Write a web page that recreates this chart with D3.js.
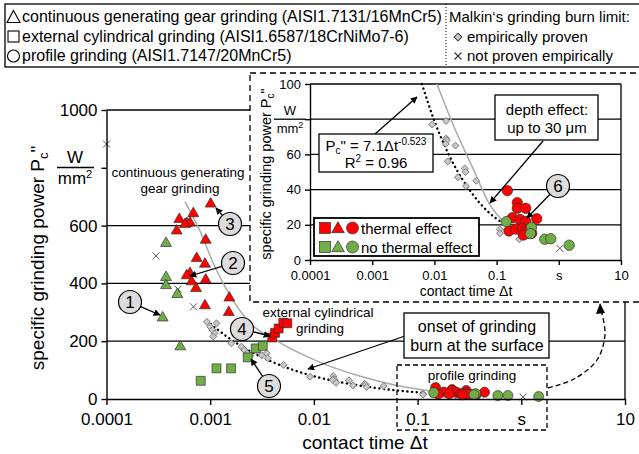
<!DOCTYPE html>
<meta charset="utf-8">
<style>
body { margin: 0; background: #fff; }
svg { font-family: "Liberation Sans", Arial, sans-serif; }
.axis path, .axis line { stroke: #000; stroke-width: 1.4px; }
.axis text { fill: #000; }
</style>
<body>
<div id="chart"></div>
<script src="https://d3js.org/d3.v7.min.js"></script>
<script>
// tick values and labels
const xTicks = [1e-4, 1e-3, 1e-2, 1e-1, 1, 10];
const xLabels = ["0.0001", "0.001", "0.01", "0.1", "s", "10"];
const mainYTicks = [0, 200, 400, 600, 800, 1000];
const mainYLabels = ["0", "200", "400", "600", "", "1000"];
const insetYTicks = [0, 20, 40, 60, 80, 100];
const insetYLabels = ["0", "20", "40", "60", "", "100"];

// continuous generating gear grinding (triangles)
const redTriT = [0.00101, 0.000687, 0.000504, 0.000593, 0.000638, 0.000571, 0.000475, 0.000905, 0.000741, 0.00089, 0.000638, 0.000593, 0.000663, 0.00073, 0.000905, 0.00153, 0.00151, 0.00089];
const redTriP = [675, 642, 622, 608, 610, 604, 582, 550, 487, 467, 435, 427, 406, 383, 412, 350, 300, 323];
const greenTriT = [0.000375, 0.000375, 0.000375, 0.000482, 0.000348, 0.000515];
const greenTriP = [539, 421, 393, 362, 281, 181];

// external cylindrical grinding (squares)
const redSqT = [0.00397, 0.00422, 0.00457, 0.00507, 0.00554];
const redSqP = [213, 229, 244, 264, 262];
const greenSqT = [0.00275, 0.00321, 0.0023, 0.00115, 0.00159, 0.00081];
const greenSqP = [175, 184, 144, 106, 106, 63];

// profile grinding (circles)
const redCircT = [0.149, 0.215, 0.215, 0.294, 0.179, 0.238, 0.294, 0.442, 0.158, 0.202, 0.26, 0.294, 0.33, 0.31, 0.27, 0.367];
const redCircP = [39.4, 32.6, 29.4, 29.4, 24, 23, 22, 23.5, 16.5, 17.6, 18, 17, 15.2, 15.7, 14.2, 15.2];
const greenCircT = [0.143, 0.363, 0.35, 0.594, 0.743, 1.47];
const greenCircP = [21.8, 18.5, 15, 11.8, 12.1, 8.4];

// Malkin's limit: empirically proven (diamonds) / not proven (x)
const diaT = [0.00093, 0.001, 0.00105, 0.0011, 0.00107, 0.00115, 0.0016, 0.002, 0.00213, 0.00228, 0.00243, 0.0028, 0.00315, 0.0035, 0.0036, 0.0051, 0.0092, 0.0154, 0.0154, 0.0158, 0.0152, 0.0218, 0.0164, 0.0308, 0.0316, 0.0238, 0.047, 0.0322, 0.113, 0.113, 0.232];
const diaP = [267, 250, 239, 227, 216, 262, 193, 181, 170, 158, 149, 170, 152, 158, 141, 118, 77, 79, 69, 68, 66, 65, 56, 52, 50, 47, 45, 42, 17.5, 15.2, 11.8];
const crossT = [0.0001, 0.0003, 0.00049, 0.00069, 1.04];
const crossP = [882, 495, 380, 319, 6.6];

// fitted curve Pc" = 7.1 dt^-0.523 (dotted)
const fitMainT = [0.00093, 0.0015, 0.0025, 0.004, 0.0065, 0.01, 0.02, 0.04, 0.07, 0.12];
const fitMainP = [270, 212, 163, 128, 99, 79, 55, 38, 28, 21];
const fitInsetT = [0.0063, 0.01, 0.02, 0.04, 0.07, 0.13];
const fitInsetP = [100, 79, 55, 38, 28, 20.6];

// grey limit curve
const limMainT = [0.00057, 0.0008, 0.0011, 0.0016, 0.0024, 0.0047, 0.0106, 0.026, 0.063, 0.12, 0.24];
const limMainP = [683, 580, 460, 350, 265, 195, 132, 82, 47, 30, 14];
const limInsetT = [0.011, 0.0205, 0.043, 0.075, 0.168, 0.23];
const limInsetP = [100, 76, 51, 32.4, 18, 14];

const RED = "#ff0000", GREEN = "#70ad47";

const svg = d3.select("#chart").append("svg")
  .attr("width", 639).attr("height", 454);

svg.append("defs").append("marker")
  .attr("id", "arr").attr("viewBox", "0 0 10 10")
  .attr("refX", 9).attr("refY", 5)
  .attr("markerWidth", 7).attr("markerHeight", 7)
  .attr("markerUnits", "userSpaceOnUse")
  .attr("orient", "auto")
  .append("path").attr("d", "M0,0L10,5L0,10z").attr("fill", "#000");

const xMain = d3.scaleLog().domain([1e-4, 10]).range([106.5, 625]);
const yMain = d3.scaleLinear().domain([0, 1000]).range([399, 110]);
const xIn = d3.scaleLog().domain([1e-4, 10]).range([310, 621]);
const yIn = d3.scaleLinear().domain([0, 100]).range([260, 84]);

function drawMarks(g, x, y, filt, big) {
  const ok = (t, p) => filt(t, p);
  const tri = d3.symbol().type(d3.symbolTriangle).size(52);
  const sq = d3.symbol().type(d3.symbolSquare).size(80);
  const dia = d3.symbol().type(d3.symbolSquare).size(24);

  g.selectAll(null).data(d3.zip(diaT, diaP).filter(d => ok(d[0], d[1]))).enter()
    .append("path").attr("d", dia)
    .attr("transform", d => "translate(" + x(d[0]) + "," + y(d[1]) + ") rotate(45)")
    .attr("fill", "#c8c8c8").attr("stroke", "#7a7a7a").attr("stroke-width", 0.9);

  g.selectAll(null).data(d3.zip(crossT, crossP).filter(d => ok(d[0], d[1]))).enter()
    .append("path")
    .attr("d", d => {
      const cx = x(d[0]), cy = y(d[1]), s = 3.5;
      return "M" + (cx - s) + "," + (cy - s) + "L" + (cx + s) + "," + (cy + s) +
        "M" + (cx - s) + "," + (cy + s) + "L" + (cx + s) + "," + (cy - s);
    })
    .attr("stroke", "#555").attr("stroke-width", 1);

  [[greenTriT, greenTriP, GREEN], [redTriT, redTriP, RED]].forEach(function(s) {
    g.selectAll(null).data(d3.zip(s[0], s[1]).filter(d => ok(d[0], d[1]))).enter()
      .append("path").attr("d", tri)
      .attr("transform", d => "translate(" + x(d[0]) + "," + y(d[1]) + ")")
      .attr("fill", s[2]).attr("stroke", "#333").attr("stroke-width", 0.7);
  });
  [[greenSqT, greenSqP, GREEN], [redSqT, redSqP, RED]].forEach(function(s) {
    g.selectAll(null).data(d3.zip(s[0], s[1]).filter(d => ok(d[0], d[1]))).enter()
      .append("path").attr("d", sq)
      .attr("transform", d => "translate(" + x(d[0]) + "," + y(d[1]) + ")")
      .attr("fill", s[2]).attr("stroke", "#333").attr("stroke-width", 0.7);
  });
  [[redCircT, redCircP, RED], [greenCircT, greenCircP, GREEN]].forEach(function(s) {
    g.selectAll(null).data(d3.zip(s[0], s[1]).filter(d => ok(d[0], d[1]))).enter()
      .append("circle").attr("r", big ? 5.2 : 5)
      .attr("cx", d => x(d[0])).attr("cy", d => y(d[1]))
      .attr("fill", s[2]).attr("stroke", "#333").attr("stroke-width", 0.7);
  });
}

function curve(g, x, y, T, P, dotted) {
  const line = d3.line().x(d => x(d[0])).y(d => y(d[1])).curve(d3.curveMonotoneX);
  const p = g.append("path").datum(d3.zip(T, P)).attr("d", line).attr("fill", "none");
  if (dotted) p.attr("stroke", "#000").attr("stroke-width", 2.4)
    .attr("stroke-linecap", "round").attr("stroke-dasharray", "0.1 4.6");
  else p.attr("stroke", "#aaa").attr("stroke-width", 1.5);
}

function arrow(g, x1, y1, x2, y2) {
  g.append("line").attr("x1", x1).attr("y1", y1).attr("x2", x2).attr("y2", y2)
    .attr("stroke", "#000").attr("stroke-width", 1.3).attr("marker-end", "url(#arr)");
}

function callout(g, cx, cy, label, tx, ty) {
  const r = 11.5, dx = tx - cx, dy = ty - cy, len = Math.sqrt(dx * dx + dy * dy);
  arrow(g, cx + r * dx / len, cy + r * dy / len, tx, ty);
  g.append("circle").attr("cx", cx).attr("cy", cy).attr("r", r)
    .attr("fill", "#dcdcdc").attr("stroke", "#000").attr("stroke-width", 1.2);
  g.append("text").attr("x", cx).attr("y", cy + 6).attr("text-anchor", "middle")
    .attr("font-size", 17).text(label);
}

function textBox(g, x, y, w, h) {
  g.append("rect").attr("x", x).attr("y", y).attr("width", w).attr("height", h)
    .attr("fill", "#fff").attr("stroke", "#000").attr("stroke-width", 1.3);
}

// ---------- main chart ----------
const main = svg.append("g");

main.selectAll(null).data([200, 400, 600, 1000]).enter().append("line")
  .attr("x1", 106.5).attr("x2", 625)
  .attr("y1", d => yMain(d)).attr("y2", d => yMain(d))
  .attr("stroke", "#000").attr("stroke-width", 1.3);
main.append("line").attr("x1", 625).attr("x2", 625).attr("y1", 110).attr("y2", 399)
  .attr("stroke", "#000").attr("stroke-width", 1.3);

curve(main, xMain, yMain, limMainT, limMainP, false);
curve(main, xMain, yMain, fitMainT, fitMainP, true);
drawMarks(main, xMain, yMain, () => true, false);

main.append("g").attr("class", "axis").attr("transform", "translate(0,399)")
  .call(d3.axisBottom(xMain).tickValues(xTicks).tickFormat((d, i) => xLabels[i])
    .tickSize(6).tickSizeOuter(0).tickPadding(8))
  .attr("font-size", 17).attr("font-family", null);
main.append("g").attr("class", "axis").attr("transform", "translate(106.5,0)")
  .call(d3.axisLeft(yMain).tickValues(mainYTicks).tickFormat((d, i) => mainYLabels[i])
    .tickSize(5).tickSizeOuter(0).tickPadding(4))
  .attr("font-size", 17).attr("font-family", null);

main.append("text").attr("x", 365).attr("y", 449).attr("text-anchor", "middle")
  .attr("font-size", 19).text("contact time \u0394t");

const yl = main.append("text").attr("transform", "translate(44,258) rotate(-90)")
  .attr("text-anchor", "middle").attr("font-size", 19);
yl.append("tspan").text("specific grinding power P");
yl.append("tspan").attr("font-size", 13).attr("dy", 4).text("c");
yl.append("tspan").attr("dy", -4).text("\"");

main.append("text").attr("x", 75).attr("y", 163).attr("text-anchor", "middle")
  .attr("font-size", 17).text("W");
main.append("line").attr("x1", 57).attr("x2", 94).attr("y1", 167.5).attr("y2", 167.5)
  .attr("stroke", "#000").attr("stroke-width", 1.3);
const mu = main.append("text").attr("x", 75).attr("y", 184).attr("text-anchor", "middle")
  .attr("font-size", 17);
mu.append("tspan").text("mm");
mu.append("tspan").attr("font-size", 11).attr("dy", -6).text("2");

// annotations on main chart
main.append("text").attr("x", 178).attr("y", 177).attr("text-anchor", "middle")
  .attr("font-size", 13.5).text("continuous generating");
main.append("text").attr("x", 180).attr("y", 193).attr("text-anchor", "middle")
  .attr("font-size", 13.5).text("gear grinding");
main.append("text").attr("x", 318).attr("y", 317).attr("text-anchor", "middle")
  .attr("font-size", 13.5).text("external cylindrical");
main.append("text").attr("x", 320).attr("y", 333).attr("text-anchor", "middle")
  .attr("font-size", 13.5).text("grinding");

main.append("rect").attr("x", 397).attr("y", 365).attr("width", 150).attr("height", 65)
  .attr("fill", "none").attr("stroke", "#000").attr("stroke-width", 1.3)
  .attr("stroke-dasharray", "5,3");
main.append("text").attr("x", 472).attr("y", 380).attr("text-anchor", "middle")
  .attr("font-size", 13.5).text("profile grinding");

arrow(main, 405, 336, 308, 369);
textBox(main, 404, 313, 145, 45);
main.append("text").attr("x", 477).attr("y", 332).attr("text-anchor", "middle")
  .attr("font-size", 16).text("onset of grinding");
main.append("text").attr("x", 477).attr("y", 351).attr("text-anchor", "middle")
  .attr("font-size", 16).text("burn at the surface");

callout(main, 130, 302, "1", 160, 315);
callout(main, 233, 263, "2", 190, 276);
callout(main, 230, 224, "3", 216, 208);
callout(main, 242, 329, "4", 270, 336);
callout(main, 269, 386, "5", 251, 359);

// dashed arrow from profile grinding box to inset
main.append("path")
  .datum([[548, 388], [574, 379], [597, 360], [605, 334], [601, 310]])
  .attr("d", d3.line().curve(d3.curveCatmullRom))
  .attr("fill", "none").attr("stroke", "#000").attr("stroke-width", 1.3)
  .attr("stroke-dasharray", "5,3");
main.append("path").attr("d", "M600,303L596,314L605,313z").attr("fill", "#000");

// ---------- inset ----------
const inset = svg.append("g");
inset.append("rect").attr("x", 250).attr("y", 73).attr("width", 400).attr("height", 229)
  .attr("fill", "#fff").attr("stroke", "#000").attr("stroke-width", 1.3)
  .attr("stroke-dasharray", "6,4");

inset.selectAll(null).data([20, 40, 60, 80, 100]).enter().append("line")
  .attr("x1", 310).attr("x2", 621)
  .attr("y1", d => yIn(d)).attr("y2", d => yIn(d))
  .attr("stroke", "#000").attr("stroke-width", 1.3);
inset.append("line").attr("x1", 621).attr("x2", 621).attr("y1", 84).attr("y2", 260)
  .attr("stroke", "#000").attr("stroke-width", 1.3);

curve(inset, xIn, yIn, limInsetT, limInsetP, false);
curve(inset, xIn, yIn, fitInsetT, fitInsetP, true);
drawMarks(inset, xIn, yIn, (t, p) => p <= 100, true);

inset.append("g").attr("class", "axis").attr("transform", "translate(0,260)")
  .call(d3.axisBottom(xIn).tickValues(xTicks).tickFormat((d, i) => xLabels[i])
    .tickSize(5).tickSizeOuter(0).tickPadding(6))
  .attr("font-size", 13).attr("font-family", null);
inset.append("g").attr("class", "axis").attr("transform", "translate(310,0)")
  .call(d3.axisLeft(yIn).tickValues(insetYTicks).tickFormat((d, i) => insetYLabels[i])
    .tickSize(5).tickSizeOuter(0).tickPadding(4))
  .attr("font-size", 13).attr("font-family", null);

inset.append("text").attr("x", 466).attr("y", 296).attr("text-anchor", "middle")
  .attr("font-size", 14).text("contact time \u0394t");
const iyl = inset.append("text").attr("transform", "translate(271,174) rotate(-90)")
  .attr("text-anchor", "middle").attr("font-size", 14.5);
iyl.append("tspan").text("specific grinding power P");
iyl.append("tspan").attr("font-size", 10).attr("dy", 3).text("c");
iyl.append("tspan").attr("dy", -3).text("\"");

inset.append("text").attr("x", 290).attr("y", 115).attr("text-anchor", "middle")
  .attr("font-size", 13).text("W");
inset.append("line").attr("x1", 274).attr("x2", 306).attr("y1", yIn(80)).attr("y2", yIn(80))
  .attr("stroke", "#000").attr("stroke-width", 1.3);
const imu = inset.append("text").attr("x", 290).attr("y", 133).attr("text-anchor", "middle")
  .attr("font-size", 13);
imu.append("tspan").text("mm");
imu.append("tspan").attr("font-size", 9).attr("dy", -5).text("2");

// formula box
arrow(inset, 375, 134, 417, 97);
textBox(inset, 319, 134, 114, 38);
const f1 = inset.append("text").attr("x", 376).attr("y", 151).attr("text-anchor", "middle")
  .attr("font-size", 15);
f1.append("tspan").text("P");
f1.append("tspan").attr("font-size", 10).attr("dy", 3).text("c");
f1.append("tspan").attr("dy", -3).text("\" = 7.1\u0394t");
f1.append("tspan").attr("font-size", 10).attr("dy", -6).text("-0.523");
const f2 = inset.append("text").attr("x", 376).attr("y", 168).attr("text-anchor", "middle")
  .attr("font-size", 15);
f2.append("tspan").text("R");
f2.append("tspan").attr("font-size", 10).attr("dy", -6).text("2");
f2.append("tspan").attr("dy", 6).text(" = 0.96");

// depth effect box
arrow(inset, 543, 141, 490, 203);
textBox(inset, 495, 95, 103, 45);
inset.append("text").attr("x", 547).attr("y", 115).attr("text-anchor", "middle")
  .attr("font-size", 15).text("depth effect:");
inset.append("text").attr("x", 547).attr("y", 133).attr("text-anchor", "middle")
  .attr("font-size", 15).text("up to 30 \u03bcm");

callout(inset, 558, 186, "6", 527, 218);

// thermal effect legend
inset.append("rect").attr("x", 314).attr("y", 218).attr("width", 165).attr("height", 38)
  .attr("fill", "#fff").attr("stroke", "#000").attr("stroke-width", 1.8);
const legRows = [[RED, "thermal effect", 228], [GREEN, "no thermal effect", 247]];
legRows.forEach(function(r) {
  inset.append("rect").attr("x", 319.5).attr("y", r[2] - 5.5).attr("width", 11).attr("height", 11)
    .attr("fill", r[0]).attr("stroke", "#333").attr("stroke-width", 0.7);
  inset.append("path").attr("d", d3.symbol().type(d3.symbolTriangle).size(70))
    .attr("transform", "translate(338," + (r[2] + 1) + ")")
    .attr("fill", r[0]).attr("stroke", "#333").attr("stroke-width", 0.7);
  inset.append("circle").attr("cx", 352.5).attr("cy", r[2]).attr("r", 6)
    .attr("fill", r[0]).attr("stroke", "#333").attr("stroke-width", 0.7);
  inset.append("text").attr("x", 361).attr("y", r[2] + 5.5).attr("font-size", 15).text(r[1]);
});

// ---------- top legend ----------
const leg = svg.append("g");
leg.append("rect").attr("x", 5).attr("y", 4).attr("width", 650).attr("height", 63)
  .attr("fill", "#fff").attr("stroke", "#000").attr("stroke-width", 1.3);
leg.append("line").attr("x1", 446).attr("x2", 446).attr("y1", 4).attr("y2", 67)
  .attr("stroke", "#000").attr("stroke-width", 1).attr("stroke-dasharray", "1,2");

leg.append("path").attr("d", "M13.5,10.5L20,22.5L7,22.5z")
  .attr("fill", "none").attr("stroke", "#000").attr("stroke-width", 1.1);
leg.append("rect").attr("x", 8).attr("y", 31).attr("width", 11).attr("height", 11)
  .attr("fill", "none").attr("stroke", "#000").attr("stroke-width", 1.1);
leg.append("circle").attr("cx", 13.5).attr("cy", 56).attr("r", 6)
  .attr("fill", "none").attr("stroke", "#000").attr("stroke-width", 1.1);

const legLeft = ["continuous generating gear grinding (AISI1.7131/16MnCr5)",
  "external cylindrical grinding (AISI1.6587/18CrNiMo7-6)",
  "profile grinding (AISI1.7147/20MnCr5)"];
legLeft.forEach(function(t, i) {
  leg.append("text").attr("x", 22).attr("y", 22 + i * 19.5).attr("font-size", 16).text(t);
});

leg.append("text").attr("x", 449).attr("y", 22).attr("font-size", 15)
  .text("Malkin\u2018s grinding burn limit:");
leg.append("path").attr("d", d3.symbol().type(d3.symbolSquare).size(30))
  .attr("transform", "translate(458,37) rotate(45)")
  .attr("fill", "#c8c8c8").attr("stroke", "#333").attr("stroke-width", 1);
leg.append("path").attr("d", "M454.5,52.5L461.5,59.5M454.5,59.5L461.5,52.5")
  .attr("stroke", "#333").attr("stroke-width", 1.1);
leg.append("text").attr("x", 467).attr("y", 42).attr("font-size", 15).text("empirically proven");
leg.append("text").attr("x", 467).attr("y", 61).attr("font-size", 15).text("not proven empirically");
</script>
</body>
